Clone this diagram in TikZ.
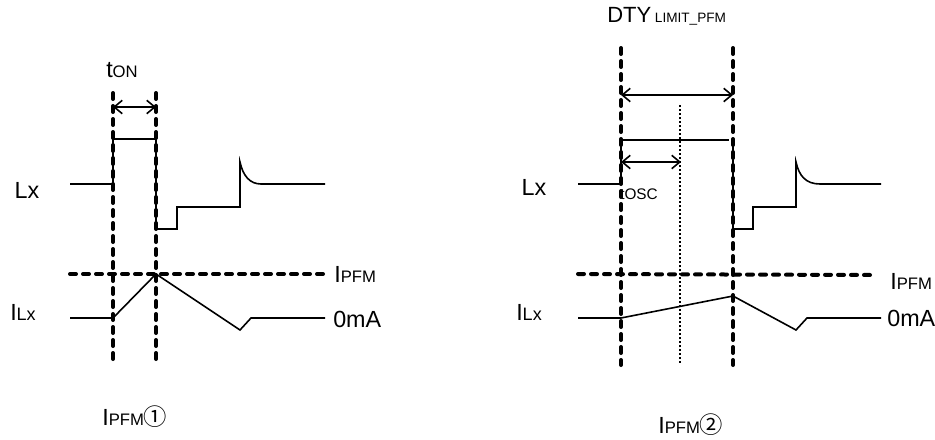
\documentclass[tikz,border=0pt]{standalone}
\usepackage{fontspec}
\setmainfont{Liberation Sans}
\newfontfamily\circfont{Noto Sans CJK JP}
\usetikzlibrary{arrows.meta,positioning}
\tikzset{
	wave/.style={line width=1.2pt},
	limit/.style={line width=3pt,line cap=round,dash pattern=on 4.5pt off 5.25pt},
	ticks/.style={line width=1pt,dash pattern=on 1.5pt off 1.5pt},
	span/.style={line width=1.2pt,{Straight Barb[length=6pt,width=10pt]}-{Straight Barb[length=6pt,width=10pt]}},
	big/.style={inner sep=0pt,font=\fontsize{17.5pt}{18pt}\selectfont},
}
\newcommand{\lowtxt}[1]{{\fontsize{12.5pt}{13pt}\selectfont #1}}
\newcommand{\lxtxt}{{\fontsize{13.5pt}{14pt}\selectfont Lx}}
\newcommand{\circtxt}[1]{{\fontsize{17.5pt}{18pt}\selectfont\circfont #1}}
\begin{document}
\begin{tikzpicture}[x=0.75pt,y=-0.75pt]
	\useasboundingbox (0,0) rectangle (935,439);
	% left
	\node[big] (tonlbl) at (122,70) {t\lowtxt{ON}};
	\node[big] (lxa) at (27,190) {Lx};
	\node[big] (ilxa) at (23,312) {I\lxtxt};
	\node[big,anchor=west] (ipfma) at (334,274) {I\lowtxt{PFM}};
	\node[big,anchor=west] (zeroa) at (333,319) {0mA};
	\node[big,anchor=base west] (capa) at (102,425) {I\lowtxt{PFM}\circtxt{①}};
	\coordinate (ta) at (113,93);
	\coordinate (tb) at (156,93);
	\coordinate (ba) at (113,359);
	\coordinate (bb) at (156,359);
	\draw[wave] (70,184)--(113,184)--(113,139)--(156,139)--(156,229)--(177,229)--(177,207)--(240,207)--(240,162)
		.. controls (243,176) and (250,184) .. (261,184)--(325,184);
	\draw[wave] (70,318)--(113,318)--(156,274)--(240,330)--(251,318)--(325,318);
	\draw[limit] (ta)--(ba);
	\draw[limit] (tb)--(bb);
	\draw[limit] (70,274)--(325,274);
	\draw[span] (113,107)--(156,107);
	% right
	\node[inner sep=0pt,anchor=west] (dtylbl) at (607,16) {{\fontsize{16.5pt}{17pt}\selectfont DTY} {\fontsize{10.2pt}{11pt}\selectfont LIMIT\_PFM}};
	\node[big] (lxb) at (534,187) {Lx};
	\node[big] (ilxb) at (529,312) {I\lxtxt};
	\node[big,anchor=west] (ipfmb) at (890,281) {I\lowtxt{PFM}};
	\node[big,anchor=west] (zerob) at (887,318) {0mA};
	\node[big,anchor=base west] (capb) at (658,433) {I\lowtxt{PFM}\circtxt{②}};
	\node[inner sep=0pt,anchor=west] (osclbl) at (620,194) {{\fontsize{11.5pt}{12pt}\selectfont tOSC}};
	\coordinate (tc) at (621,48);
	\coordinate (td) at (733,48);
	\coordinate (te) at (680,105);
	\coordinate (bc) at (621,365);
	\coordinate (bd) at (733,365);
	\coordinate (be) at (680,363);
	\draw[wave] (578,184)--(621,184)--(621,140)--(729,140);
	\draw[wave] (733,140)--(733,229)--(753,229)--(753,207)--(796,207)--(796,162)
		.. controls (799,176) and (806,184) .. (820,184)--(881,184);
	\draw[wave] (578,318)--(621,318)--(733,296)--(796,330)--(807,318)--(881,318);
	\draw[limit] (tc)--(bc);
	\draw[limit] (td)--(bd);
	\draw[ticks] (te)--(be);
	\draw[limit] (578,274)--(873,275);
	\draw[span] (621,95)--(733,95);
	\draw[span] (621,162)--(681,162);
\end{tikzpicture}
\end{document}
